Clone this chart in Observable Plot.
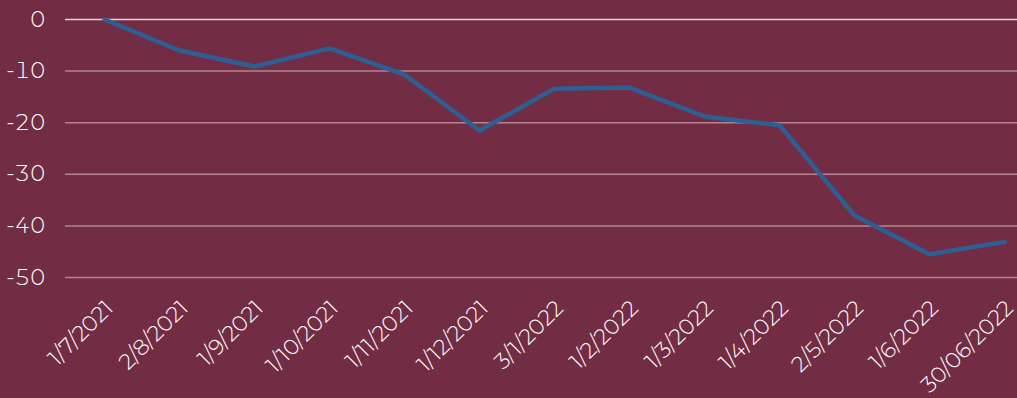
<!DOCTYPE html>
<html>
<head>
<meta charset="utf-8">
<script src="https://cdn.jsdelivr.net/npm/d3@7"></script>
<script src="https://cdn.jsdelivr.net/npm/@observablehq/plot@0.6"></script>
<style>
  html, body { margin: 0; padding: 0; background: #722d45; overflow: hidden; width: 1017px; height: 398px; }
  #chart svg { display: block; background: #722d45; max-width: none !important; }
</style>
</head>
<body>
<div id="chart"></div>
<script>
const dates = ["1/7/2021","2/8/2021","1/9/2021","1/10/2021","1/11/2021","1/12/2021","3/1/2022","1/2/2022","1/3/2022","1/4/2022","2/5/2022","1/6/2022","30/06/2022"];
const values = [0, -6.0, -9.1, -5.6, -10.7, -21.5, -13.4, -13.2, -18.8, -20.5, -38.0, -45.5, -43.1];
const yTicks = [0, -10, -20, -30, -40, -50];

const data = dates.map((d, i) => ({date: d, value: values[i]}));

const chart = Plot.plot({
  width: 1042,
  height: 398,
  marginLeft: 65,
  marginRight: 0,
  marginTop: 19,
  marginBottom: 121,
  style: {background: "#722d45", color: "#ffffff", fontFamily: "Montserrat, 'Open Sans', sans-serif", fontSize: "20px", fontWeight: 300, maxWidth: "none"},
  x: {type: "point", domain: dates, padding: 0.5, align: 0.5},
  y: {domain: [-50, 0]},
  marks: [
    Plot.ruleY(yTicks.filter(t => t !== 0), {stroke: "#b5848f", strokeWidth: 1.5}),
    Plot.ruleY([0], {stroke: "#e8d3d9", strokeWidth: 1.5}),
    Plot.axisY(yTicks, {tickSize: 0, tickPadding: 20, fontSize: 22, fontWeight: 300, fill: "#ffffff", label: null, tickFormat: d => String(d)}),
    Plot.axisX({tickSize: 0, tickPadding: 27, tickRotate: -45, fontSize: 22, fontWeight: 300, fill: "#ffffff", dx: 5, label: null}),
    Plot.line(data, {x: "date", y: "value", stroke: "#2d5f93", strokeWidth: 4.5, strokeLinejoin: "round"})
  ]
});
document.getElementById("chart").appendChild(chart);
</script>
</body>
</html>
